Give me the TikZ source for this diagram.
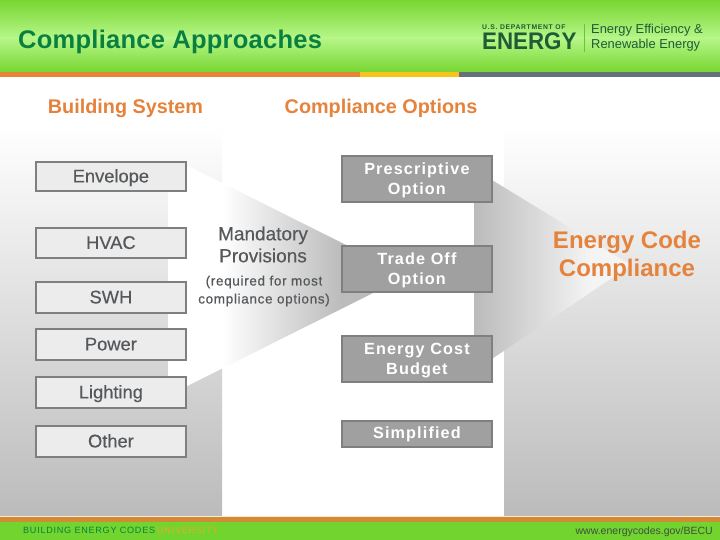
\documentclass[tikz,border=0pt]{standalone}
\usepackage{fontspec}
\setmainfont{Liberation Sans}
\newcommand{\optstrut}{\rule{0pt}{15pt}}
\definecolor{hdgreen}{HTML}{78D632}
\definecolor{hdlight}{HTML}{B6F688}
\definecolor{ftgreen}{HTML}{72D42E}
\definecolor{titlegreen}{HTML}{0A8040}
\definecolor{logogreen}{HTML}{1E5C36}
\definecolor{barorange}{HTML}{E58535}
\definecolor{baryellow}{HTML}{F8C41C}
\definecolor{barslate}{HTML}{66707A}
\definecolor{ftorange}{HTML}{D28A35}
\definecolor{ftpale}{HTML}{FBE9D8}
\definecolor{headorange}{HTML}{E5823C}
\definecolor{panelgrey}{HTML}{BBBBBB}
\definecolor{wedgeend}{HTML}{F4F4F4}
\definecolor{boxline}{HTML}{7F7F7F}
\definecolor{lightbox}{HTML}{ECECEC}
\definecolor{darkbox}{HTML}{A0A0A0}
\definecolor{inktext}{HTML}{55595C}
\definecolor{urlgrey}{HTML}{3F4F40}
\tikzset{
  sysbox/.style={draw=boxline,line width=1.8pt,fill=lightbox,minimum width=150pt,inner sep=0pt,text=inktext,text height=12pt,text depth=0pt,font=\fontsize{18.3}{20}\selectfont\addfontfeatures{FakeBold=0.4},anchor=north west},
  optbox/.style={draw=boxline,line width=1.8pt,fill=darkbox,minimum width=150pt,inner sep=0pt,text=white,align=center,anchor=north west,font=\fontsize{16.2}{19.5}\selectfont\bfseries\addfontfeatures{LetterSpace=7}},
  headtext/.style={text=headorange,font=\fontsize{19.8}{22}\selectfont\bfseries,inner sep=0pt},
  plain/.style={inner sep=0pt,align=center}
}
\begin{document}
\begin{tikzpicture}[x=1pt,y=-1pt]
\useasboundingbox (0,0) rectangle (720,540);
\fill[white] (0,0) rectangle (720,540);
% header
\shade[top color=hdgreen,bottom color=hdlight] (0,0) rectangle (720,38);
\shade[top color=hdlight,bottom color=hdgreen] (0,38) rectangle (720,72);
\fill[barorange] (0,72) rectangle (360,77);
\fill[baryellow] (360,72) rectangle (459,77);
\fill[barslate] (459,72) rectangle (720,77);
% left panel
\shade[top color=white,bottom color=panelgrey] (0,125) rectangle (222,517);
\begin{scope}
\clip (168,172) -- (187,165.5) -- (373,258.5) -- (373,293) -- (187,386) -- (187,376) -- (168,376) -- cycle;
\fill[white] (168,140) rectangle (223,400);
\shade[left color=white,right color=panelgrey] (222,140) rectangle (342,400);
\fill[panelgrey] (342,140) rectangle (373,400);
\end{scope}
% right panel
\shade[top color=white,bottom color=panelgrey] (504,125) rectangle (720,517);
\begin{scope}
\clip (474,169) -- (631,265) -- (474,371) -- cycle;
\shade[left color=panelgrey,right color=wedgeend] (474,160) rectangle (590,380);
\fill[wedgeend] (589.5,160) rectangle (640,380);
\end{scope}
% footer
\fill[ftpale] (0,516) rectangle (720,517);
\fill[ftorange] (0,517) rectangle (720,522);
\fill[ftgreen] (0,522) rectangle (720,540);
% title and logo
\node[anchor=west,inner sep=0pt,text=titlegreen,font=\fontsize{25.5}{30}\selectfont\bfseries\addfontfeatures{LetterSpace=1}] (title) at (18,41.5) {Compliance Approaches};
\node[anchor=west,inner sep=0pt,text=logogreen,font=\fontsize{6.8}{7}\selectfont\bfseries\addfontfeatures{LetterSpace=10}] (dept) at (482,27) {U.S. DEPARTMENT OF};
\node[anchor=west,inner sep=0pt,text=logogreen,font=\fontsize{24}{28}\selectfont\bfseries\addfontfeatures{FakeStretch=0.93}] (energy) at (482,41.5) {ENERGY};
\node[anchor=west,inner sep=0pt,text=logogreen,font=\fontsize{12.9}{16}\selectfont] (eere1) at (591,30) {Energy Efficiency \&};
\node[anchor=west,inner sep=0pt,text=logogreen,font=\fontsize{12.9}{16}\selectfont] (eere2) at (591,45.5) {Renewable Energy};
\draw[hdgreen!85!logogreen,line width=.5pt] (584,24) -- (584,52);
% headings
\node[headtext] (hsys) at (125.5,108) {Building System};
\node[headtext] (hopt) at (381,108) {Compliance Options};
% system boxes
\node[sysbox,minimum height=29pt] (envelope) at (35,161) {Envelope};
\node[sysbox,minimum height=30pt] (hvac) at (35,227) {HVAC};
\node[sysbox,minimum height=31pt] (swh) at (35,281) {SWH};
\node[sysbox,minimum height=31pt] (power) at (35,328) {Power};
\node[sysbox,minimum height=31pt] (lighting) at (35,376) {Lighting};
\node[sysbox,minimum height=31pt] (other) at (35,425) {Other};
% mandatory
\node[plain,text=inktext,font=\fontsize{19}{22}\selectfont\addfontfeatures{FakeBold=0.4}] (mand) at (263,244.5) {Mandatory\\Provisions};
\node[plain,text=inktext,font=\fontsize{13.5}{18}\selectfont\addfontfeatures{LetterSpace=5,FakeBold=0.5}] (req) at (264,291) {(required for most\\compliance options)};
% option boxes
\node[optbox,minimum height=46pt] (presc) at (341,155) {\optstrut Prescriptive\\Option};
\node[optbox,minimum height=46pt] (trade) at (341,245) {\optstrut Trade Off\\Option};
\node[optbox,minimum height=46pt] (cost) at (341,335) {\optstrut Energy Cost\\Budget};
\node[optbox,minimum height=26pt] (simp) at (341,420) {Simplified};
% result
\node[plain,text=headorange,font=\fontsize{24}{28}\selectfont\bfseries] (result) at (627,256.5) {Energy Code\\Compliance};
% footer text
\node[anchor=west,inner sep=0pt,text=titlegreen,font=\fontsize{9.1}{11}\selectfont\addfontfeatures{LetterSpace=8}] (ft1) at (23,530) {BUILDING ENERGY CODES};
\node[anchor=west,inner sep=0pt,text=baryellow!55!ftorange,font=\fontsize{9.1}{11}\selectfont\addfontfeatures{LetterSpace=8}] (ft2) at (157,530) {UNIVERSITY};
\node[anchor=east,inner sep=0pt,text=urlgrey,font=\fontsize{10.5}{12}\selectfont] (ft3) at (713,531.5) {www.energycodes.gov/BECU};
\end{tikzpicture}
\end{document}
